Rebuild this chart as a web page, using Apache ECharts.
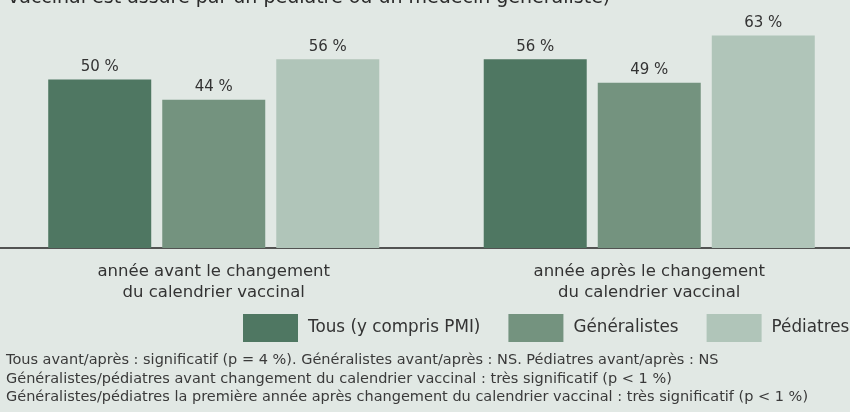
<!DOCTYPE html>
<html>
<head>
<meta charset="utf-8">
<script src="https://cdn.jsdelivr.net/npm/echarts@6/dist/echarts.min.js"></script>
<style>
  html, body { margin: 0; padding: 0; background: #e1e8e4; }
  #chart { width: 850px; height: 412px; }
</style>
</head>
<body>
<div id="chart"></div>
<script>
  const categories = ['année avant le changement\ndu calendrier vaccinal', 'année après le changement\ndu calendrier vaccinal']
  const seriesNames = ['Tous (y compris PMI)', 'Généralistes', 'Pédiatres']
  const tous = [50, 56]
  const generalistes = [44, 49]
  const pediatres = [56, 63]
  const colors = ['#4f7762', '#74937f', '#b0c5b9']
  const notes = [
    'Tous avant/après : significatif (p = 4 %). Généralistes avant/après : NS. Pédiatres avant/après : NS',
    'Généralistes/pédiatres avant changement du calendrier vaccinal : très significatif (p < 1 %)',
    'Généralistes/pédiatres la première année après changement du calendrier vaccinal : très significatif (p < 1 %)'
  ]
  const titleText = 'vaccinal est assuré par un pédiatre ou un médecin généraliste)'

  const font = '"DejaVu Sans", sans-serif'
  const chart = echarts.init(document.getElementById('chart'))

  const makeSeries = (name, data, i) => ({
    name,
    type: 'bar',
    data,
    barWidth: 103,
    barGap: '10.7%',
    itemStyle: { color: colors[i] },
    label: {
      show: true,
      position: 'top',
      distance: 5,
      formatter: '{c} %',
      color: '#333',
      fontSize: 15,
      fontFamily: font
    }
  })

  const option = {
    backgroundColor: '#e1e8e4',
    animation: false,
    title: {
      text: titleText,
      left: 3,
      top: -16,
      textStyle: { fontSize: 19, fontWeight: 'normal', color: '#2b2b2b', fontFamily: font }
    },
    legend: {
      left: 243,
      top: 314,
      width: 700,
      padding: 0,
      itemWidth: 55,
      itemHeight: 28,
      itemGap: 28,
      icon: 'rect',
      data: seriesNames,
      textStyle: { fontSize: 16.8, color: '#333', fontFamily: font, padding: [0, 0, 0, 5] }
    },
    grid: { left: -4, width: 871, top: 12, height: 236, outerBoundsMode: 'none', containLabel: false },
    xAxis: {
      type: 'category',
      data: categories,
      axisLine: { lineStyle: { color: '#222', width: 1.5 } },
      axisTick: { show: false },
      axisLabel: {
        color: '#333',
        fontSize: 16.5,
        lineHeight: 21,
        margin: 13,
        fontFamily: font
      }
    },
    yAxis: {
      type: 'value',
      min: 0,
      max: 70,
      show: false
    },
    series: [
      makeSeries(seriesNames[0], tous, 0),
      makeSeries(seriesNames[1], generalistes, 1),
      makeSeries(seriesNames[2], pediatres, 2)
    ],
    graphic: notes.map((t, i) => ({
      type: 'text',
      left: 6,
      top: 353 + i * 18.3,
      style: { text: t, fontSize: 14.5, fill: '#3a3a3a', fontFamily: font }
    }))
  }

  chart.setOption(option)
</script>
</body>
</html>
